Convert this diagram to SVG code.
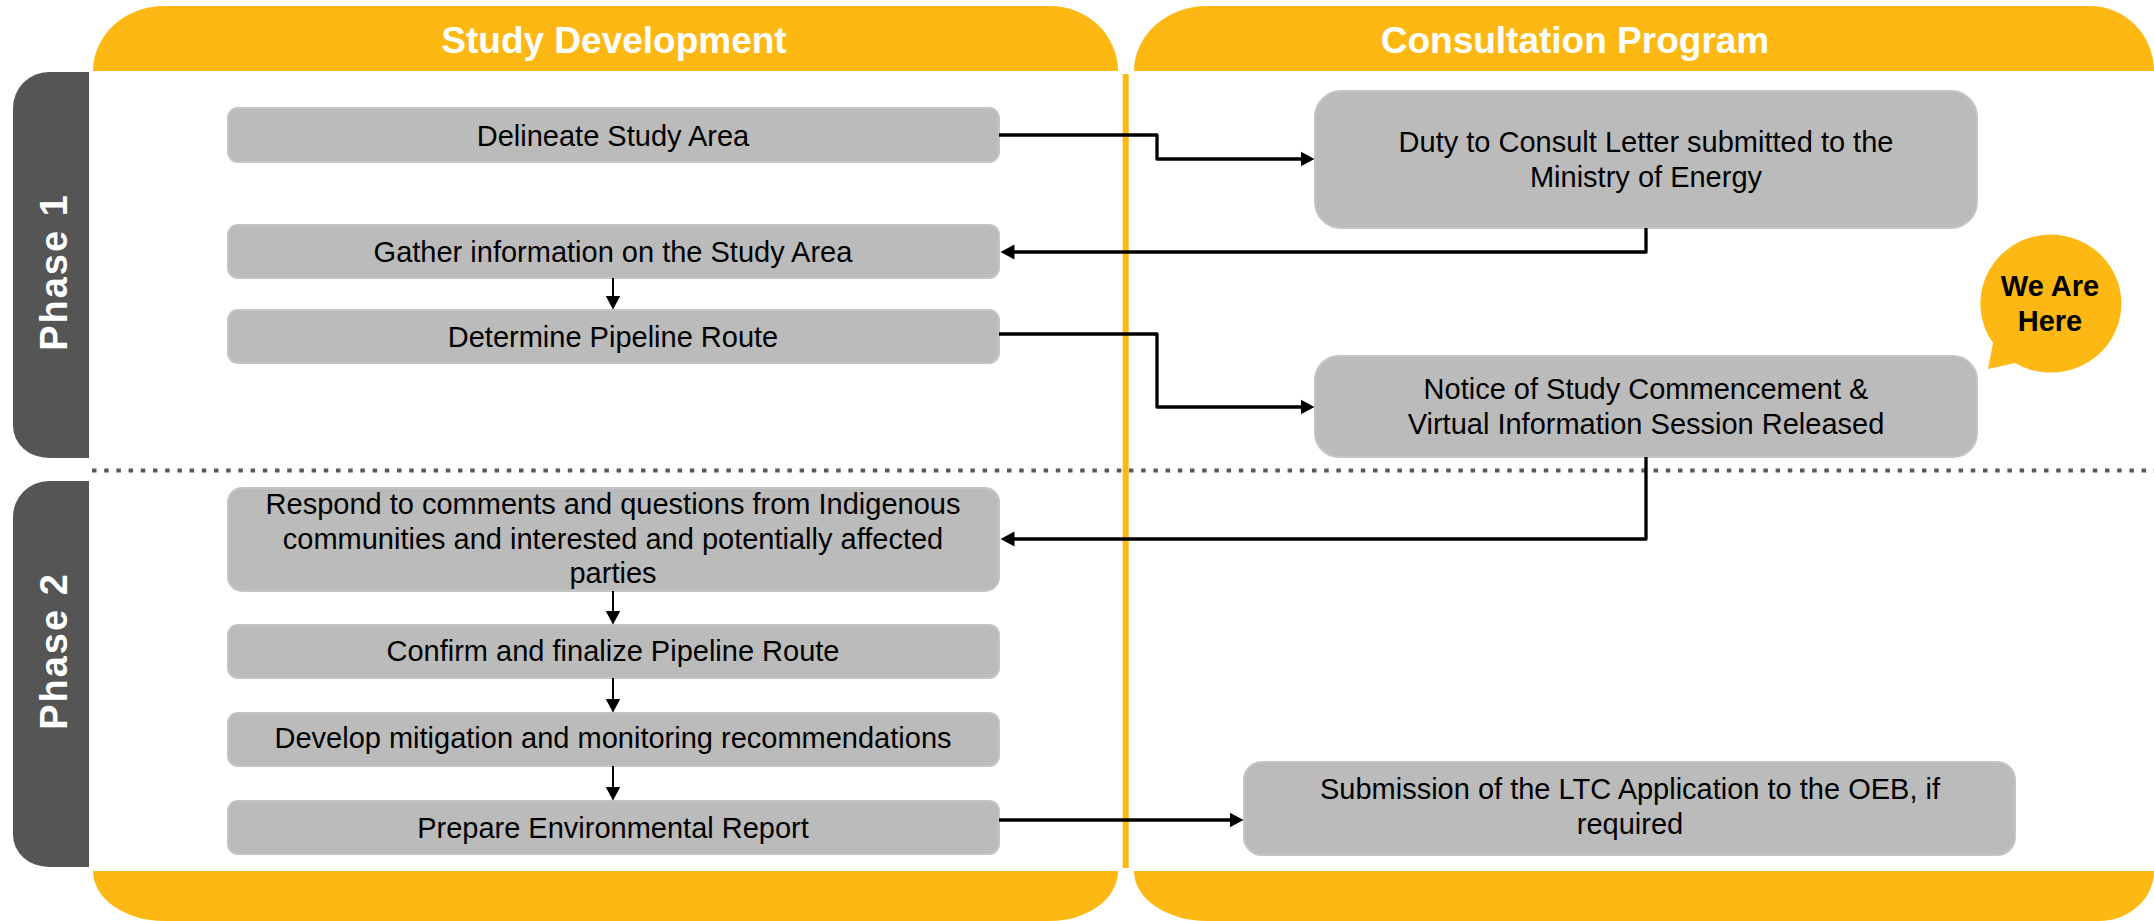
<svg xmlns="http://www.w3.org/2000/svg" width="2154" height="921" viewBox="0 0 2154 921">
<style>
.band{fill:#FDB813}
.tab{fill:#555555}
.box{fill:#BBBBBB;stroke:#C4C4C4;stroke-width:2}
.t{font-family:"Liberation Sans",Arial,sans-serif;font-size:29px;fill:#000;text-anchor:middle}
.h{font-family:"Liberation Sans",Arial,sans-serif;font-size:37px;font-weight:bold;fill:#fff;text-anchor:middle}
.ph{font-family:"Liberation Sans",Arial,sans-serif;font-size:38px;font-weight:bold;fill:#fff;text-anchor:middle;letter-spacing:2px}
.we{font-family:"Liberation Sans",Arial,sans-serif;font-size:29px;font-weight:bold;fill:#000;text-anchor:middle}
.c{fill:none;stroke:#000;stroke-width:3.3;stroke-linejoin:round}
.v{fill:none;stroke:#000;stroke-width:2}
</style>
<defs>
<marker id="ah" markerUnits="userSpaceOnUse" markerWidth="16" markerHeight="16" viewBox="0 -8 16 16" refX="0.5" refY="0" orient="auto">
<path d="M0,-7.5 L14,0 L0,7.5 Z" fill="#000"/>
</marker>
</defs>
<rect width="2154" height="921" fill="#fff"/>
<g id="header-study">
<path class="band" d="M93,71 A71,65 0 0 1 164,6 H1050 A68,65 0 0 1 1118,71 Z"/>
<text class="h" x="614" y="53">Study Development</text>
</g>
<g id="header-consult">
<path class="band" d="M1134,71 A73,65 0 0 1 1207,6 H2090 A64,65 0 0 1 2154,71 Z"/>
<text class="h" x="1575" y="53">Consultation Program</text>
</g>
<g id="footer-study">
<path class="band" d="M93,871 H1118 A68,50 0 0 1 1050,921 H164 A71,50 0 0 1 93,871 Z"/>
</g>
<g id="footer-consult">
<path class="band" d="M1134,871 H2154 A55,50 0 0 1 2099,921 H1207 A73,50 0 0 1 1134,871 Z"/>
</g>
<g id="divider">
<line x1="1125.7" y1="74" x2="1125.7" y2="868" stroke="#FDB813" stroke-width="6"/>
<line x1="92" y1="470.5" x2="2154" y2="470.5" stroke="#595959" stroke-width="4.2" stroke-dasharray="4.5 7.7"/>
</g>
<g id="phase1">
<path class="tab" d="M89,72 V458 H49 A36,32 0 0 1 13,426 V108 A36,36 0 0 1 49,72 Z"/>
<text class="ph" transform="translate(67,272) rotate(-90)">Phase 1</text>
</g>
<g id="phase2">
<path class="tab" d="M89,481 V867 H49 A36,32 0 0 1 13,835 V517 A36,36 0 0 1 49,481 Z"/>
<text class="ph" transform="translate(67,651) rotate(-90)">Phase 2</text>
</g>
<g id="delineate">
<rect class="box" x="228" y="108" width="771" height="54" rx="10"/>
<text class="t" x="613" y="146">Delineate Study Area</text>
</g>
<g id="gather">
<rect class="box" x="228" y="225" width="771" height="53" rx="10"/>
<text class="t" x="613" y="262">Gather information on the Study Area</text>
</g>
<g id="determine">
<rect class="box" x="228" y="310" width="771" height="53" rx="10"/>
<text class="t" x="613" y="347">Determine Pipeline Route</text>
</g>
<g id="respond">
<rect class="box" x="228" y="488" width="771" height="103" rx="14"/>
<text class="t" x="613" y="514">Respond to comments and questions from Indigenous</text>
<text class="t" x="613" y="549">communities and interested and potentially affected</text>
<text class="t" x="613" y="583">parties</text>
</g>
<g id="confirm">
<rect class="box" x="228" y="625" width="771" height="53" rx="10"/>
<text class="t" x="613" y="661">Confirm and finalize Pipeline Route</text>
</g>
<g id="develop">
<rect class="box" x="228" y="713" width="771" height="53" rx="10"/>
<text class="t" x="613" y="748">Develop mitigation and monitoring recommendations</text>
</g>
<g id="prepare">
<rect class="box" x="228" y="801" width="771" height="53" rx="10"/>
<text class="t" x="613" y="838">Prepare Environmental Report</text>
</g>
<g id="duty">
<rect class="box" x="1315" y="91" width="662" height="137" rx="26"/>
<text class="t" x="1646" y="152">Duty to Consult Letter submitted to the</text>
<text class="t" x="1646" y="187">Ministry of Energy</text>
</g>
<g id="notice">
<rect class="box" x="1315" y="356" width="662" height="101" rx="24"/>
<text class="t" x="1646" y="399">Notice of Study Commencement &amp;</text>
<text class="t" x="1646" y="434">Virtual Information Session Released</text>
</g>
<g id="submission">
<rect class="box" x="1244" y="762" width="771" height="93" rx="18"/>
<text class="t" x="1630" y="799">Submission of the LTC Application to the OEB, if</text>
<text class="t" x="1630" y="834">required</text>
</g>
<g id="we-are-here">
<path class="band" d="M1993,343 A70.5,69 0 1 1 2015,363 L1988,369 Z"/>
<text class="we" x="2050" y="296">We Are</text>
<text class="we" x="2050" y="331">Here</text>
</g>
<g id="connectors">
<path class="c" d="M999,135 H1157 V159 H1301" marker-end="url(#ah)"/>
<path class="c" d="M1646,228 V252 H1014" marker-end="url(#ah)"/>
<path class="v" d="M613,278 V296" marker-end="url(#ah)"/>
<path class="c" d="M999,334 H1157 V407 H1301" marker-end="url(#ah)"/>
<path class="c" d="M1646,457 V539 H1014" marker-end="url(#ah)"/>
<path class="v" d="M613,591 V611" marker-end="url(#ah)"/>
<path class="v" d="M613,678 V699" marker-end="url(#ah)"/>
<path class="v" d="M613,766 V787" marker-end="url(#ah)"/>
<path class="c" d="M999,820 H1230" marker-end="url(#ah)"/>
</g>
</svg>
